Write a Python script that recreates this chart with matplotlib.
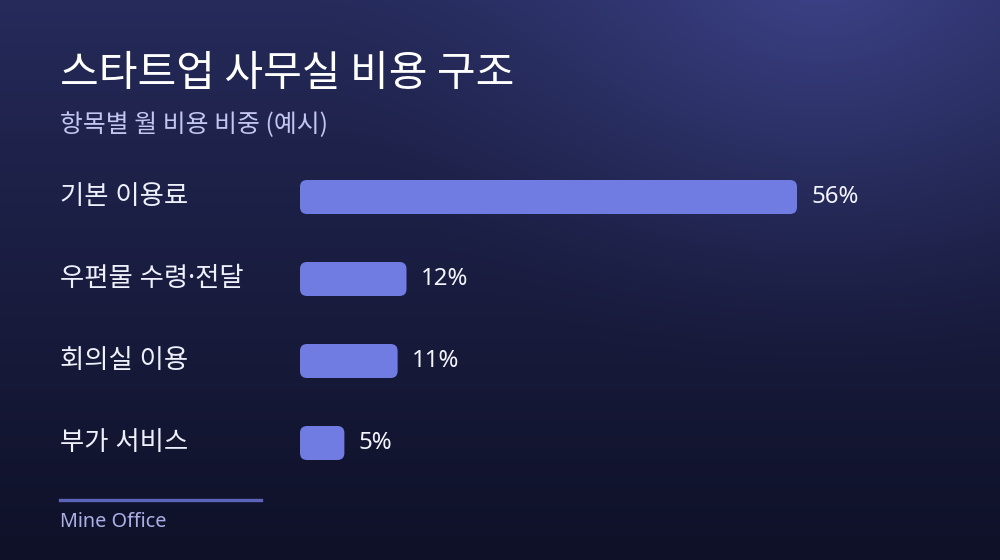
import numpy as np
import matplotlib
matplotlib.use("Agg")
import matplotlib.pyplot as plt
from matplotlib.patches import FancyBboxPatch
from matplotlib.colors import to_rgb
import matplotlib.transforms as mtransforms

plt.rcParams['font.family'] = ['Noto Sans CJK KR', 'DejaVu Sans']

# ---- data ----
title = "스타트업 사무실 비용 구조"
subtitle = "항목별 월 비용 비중 (예시)"
categories = ["기본 이용료", "우편물 수령·전달", "회의실 이용", "부가 서비스"]
shares = [56, 12, 11, 5]
value_labels = ["56%", "12%", "11%", "5%"]
source = "Mine Office"

W, H = 1000, 560
fig = plt.figure(figsize=(W / 100, H / 100), dpi=100)

# ---- background gradient ----
bg = fig.add_axes([0, 0, 1, 1], zorder=-10)
yy, xx = np.mgrid[0:H, 0:W]
top = np.array(to_rgb("#262b5c"))
bot = np.array(to_rgb("#0f1128"))
t2 = np.clip(yy / H, 0, 1)[..., None] ** 0.85
img = top * (1 - t2) + bot * t2
glow = np.array(to_rgb("#3d4389"))
d = np.sqrt((xx - 820) ** 2 + ((yy + 40) * 1.2) ** 2)
g = np.clip(1 - d / 520, 0, 1)[..., None] ** 1.6
img = img * (1 - g) + glow * g
bg.imshow(img, aspect='auto', extent=[0, W, H, 0], interpolation='bilinear')
bg.set_xlim(0, W)
bg.set_ylim(H, 0)
bg.axis('off')

# ---- bars axes ----
px_per_unit = 8.875
ax_left, ax_w = 300, 600
ax_top, ax_bot = 156, 484
ax = fig.add_axes([ax_left / W, 1 - ax_bot / H, ax_w / W, (ax_bot - ax_top) / H])
ax.set_xlim(0, ax_w / px_per_unit)
n = len(categories)
ax.set_ylim(n - 0.5, -0.5)
ax.axis('off')
ax.patch.set_alpha(0)

y_px_per_unit = (ax_bot - ax_top) / n
bar_h = 34 / y_px_per_unit
aspect = (1 / y_px_per_unit) / (1 / px_per_unit)
rad = 7 / px_per_unit
bar_color = "#717ce3"

for i, (v, lab) in enumerate(zip(shares, value_labels)):
    p = FancyBboxPatch((0, i - bar_h / 2), v, bar_h,
                       boxstyle=f"round,pad=0,rounding_size={rad}",
                       mutation_aspect=aspect,
                       facecolor=bar_color, edgecolor='none')
    ax.add_patch(p)
    ax.annotate(lab, xy=(v, i), xytext=(14, 0), textcoords='offset pixels',
                ha='left', va='center', fontsize=17.3, color='#f2f3fb',
                family=['Noto Sans', 'DejaVu Sans'])

trans = mtransforms.blended_transform_factory(fig.transFigure, ax.transData)
for i, c in enumerate(categories):
    ax.text(60 / W, i + 0.0, c, transform=trans, ha='left', va='center',
            fontsize=19, color='#eef0fb',
            family=['Noto Sans', 'Noto Sans CJK KR', 'DejaVu Sans'])

# ---- titles ----
fig.text(60 / W, 1 - 74 / H, title, ha='left', va='center',
         fontsize=30.3, color='white', fontweight='medium')
fig.text(60 / W, 1 - 125 / H, subtitle, ha='left', va='center',
         fontsize=17.9, color='#c3c7ef')

# ---- footer ----
fig.add_artist(plt.Line2D([60 / W, 261 / W], [1 - 500 / H, 1 - 500 / H],
                          color='#5c64ba', linewidth=2.4,
                          transform=fig.transFigure))
fig.text(60 / W, 1 - 522 / H, source, ha='left', va='center',
         fontsize=14.3, color='#aab0e6', family=['Noto Sans', 'DejaVu Sans'])

fig.savefig("out.png", dpi=100)
